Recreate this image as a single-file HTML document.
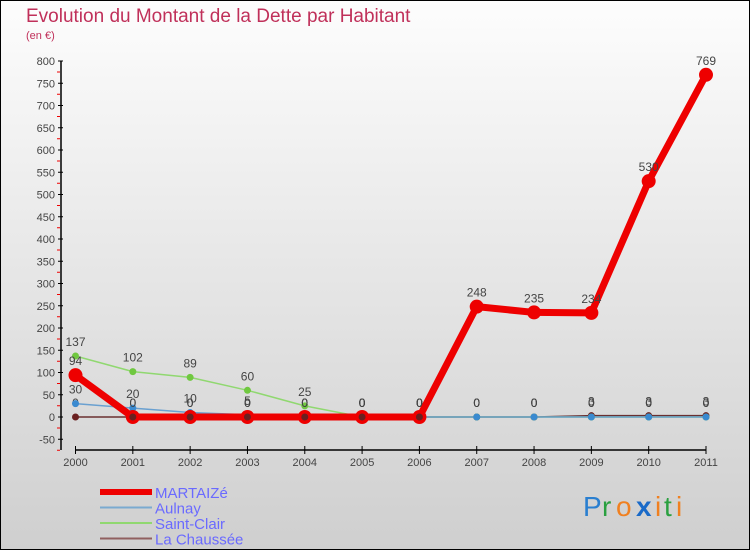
<!DOCTYPE html>
<html><head><meta charset="utf-8"><style>
html,body{margin:0;padding:0;}
body{width:750px;height:550px;overflow:hidden;font-family:"Liberation Sans",sans-serif;}
</style></head><body>
<svg width="750" height="550" xmlns="http://www.w3.org/2000/svg" id="chart">
<defs><linearGradient id="bg" x1="0" y1="0" x2="0" y2="1"><stop offset="0" stop-color="#fdfdfd"/><stop offset="1" stop-color="#cfcfcf"/></linearGradient></defs>
<rect x="0.5" y="0.5" width="749" height="549" fill="url(#bg)" stroke="#000"/>
<text x="26" y="22" font-size="19" fill="#c0305a">Evolution du Montant de la Dette par Habitant</text>
<text x="26" y="39" font-size="11" fill="#c0305a">(en €)</text>
<g id="axes"></g><g id="series"></g><g id="legend"></g>
<g font-size="28" font-family="'Liberation Sans',sans-serif">
<text x="583" y="516" fill="#2a7fd0">P</text><text x="602" y="516" fill="#2aa040">r</text><text x="616" y="516" fill="#f08020">o</text><text x="636" y="516" fill="#1a6ac8" font-weight="bold">x</text><text x="655" y="516" fill="#f08020">i</text><text x="664" y="516" fill="#2aa040">t</text><text x="676" y="516" fill="#f08020">i</text>
</g>
</svg>
<script>
const years=["2000","2001","2002","2003","2004","2005","2006","2007","2008","2009","2010","2011"];
const yTicks=[-50,0,50,100,150,200,250,300,350,400,450,500,550,600,650,700,750,800];
const martaize=[94,0,0,0,0,0,0,248,235,234,530,769];
const aulnay=[30,20,10,5,0,0,0,0,0,0,0,0];
const saintClair=[137,102,89,60,25,0,0,0,0,0,0,0];
const laChaussee=[0,0,0,0,0,0,0,0,0,3,3,3];
const NS="http://www.w3.org/2000/svg";
const X=i=>75.5+i*(706-75.5)/11;
const Y=v=>417-v*0.445;
function mk(t,a,p,txt){const e=document.createElementNS(NS,t);for(const k in a)e.setAttribute(k,a[k]);if(txt!==undefined)e.textContent=txt;p.appendChild(e);return e;}
const ax=document.getElementById('axes');
let e=mk('line',{x1:61,y1:61,x2:61,y2:450,stroke:'#000','stroke-width':1.5},ax);

e=mk('line',{x1:75.5,y1:450,x2:706,y2:450,stroke:'#000','stroke-width':1.5},ax);

yTicks.forEach(v=>{const y=Y(v);
 mk('line',{x1:58,y1:y,x2:63,y2:y,stroke:'#000'},ax);
 mk('line',{x1:57,y1:y+11,x2:60,y2:y+11,stroke:'#e00'},ax);
 const t=mk('text',{x:55,y:y+4,'text-anchor':'end','font-size':11,fill:'#444'},ax,String(v));
 });
years.forEach((yr,i)=>{mk('line',{x1:X(i),y1:446,x2:X(i),y2:454,stroke:'#000'},ax);
 const t=mk('text',{x:X(i),y:466,'text-anchor':'middle','font-size':11,fill:'#444'},ax,yr);
 });
const sg=document.getElementById('series');
const series=[
 {name:'la-chaussee',data:laChaussee,c:'#6a3030',w:1.5,r:3.5,f:'#6a2020'},
 {name:'saint-clair',data:saintClair,c:'#90d870',w:1.5,r:3.5,f:'#70c840'},
 {name:'aulnay',data:aulnay,c:'#6aa0d0',w:1.5,r:3.5,f:'#3a8ad0'},
 {name:'martaize',data:martaize,c:'#ee0000',w:7,r:7,f:'#ee0000'}];
series.forEach(s=>{const g=mk('g',{},sg);
 
 const l=mk('polyline',{points:s.data.map((v,i)=>X(i)+','+Y(v)).join(' '),fill:'none',stroke:s.c,'stroke-width':s.w,'stroke-linejoin':'round'},g);
 
 s.data.forEach((v,i)=>{const p=mk('circle',{cx:X(i),cy:Y(v),r:s.r,fill:s.f},g);
  
  const t=mk('text',{x:X(i),y:Y(v)-10,'text-anchor':'middle','font-size':12,fill:'#444'},g,String(v));
  });});
// re-draw small dark points on top of red line
laChaussee.forEach((v,i)=>{if(martaize[i]===v){const p=mk('circle',{cx:X(i),cy:Y(v),r:3.5,fill:'#6a2020'},sg);
 }});
const lg=document.getElementById('legend');
const leg=[['MARTAIZé','#ee0000',6],['Aulnay','#7aaad0',2],['Saint-Clair','#90d870',2],['La Chaussée','#906060',2]];
leg.forEach((d,i)=>{const y=492+i*15.5;const g=mk('g',{},lg);
 
 mk('line',{x1:100,y1:y,x2:152,y2:y,stroke:d[1],'stroke-width':d[2]},g);
 mk('text',{x:155,y:y+6,'font-size':15,fill:'#6a6aff'},g,d[0]);});
</script>
</body></html>
